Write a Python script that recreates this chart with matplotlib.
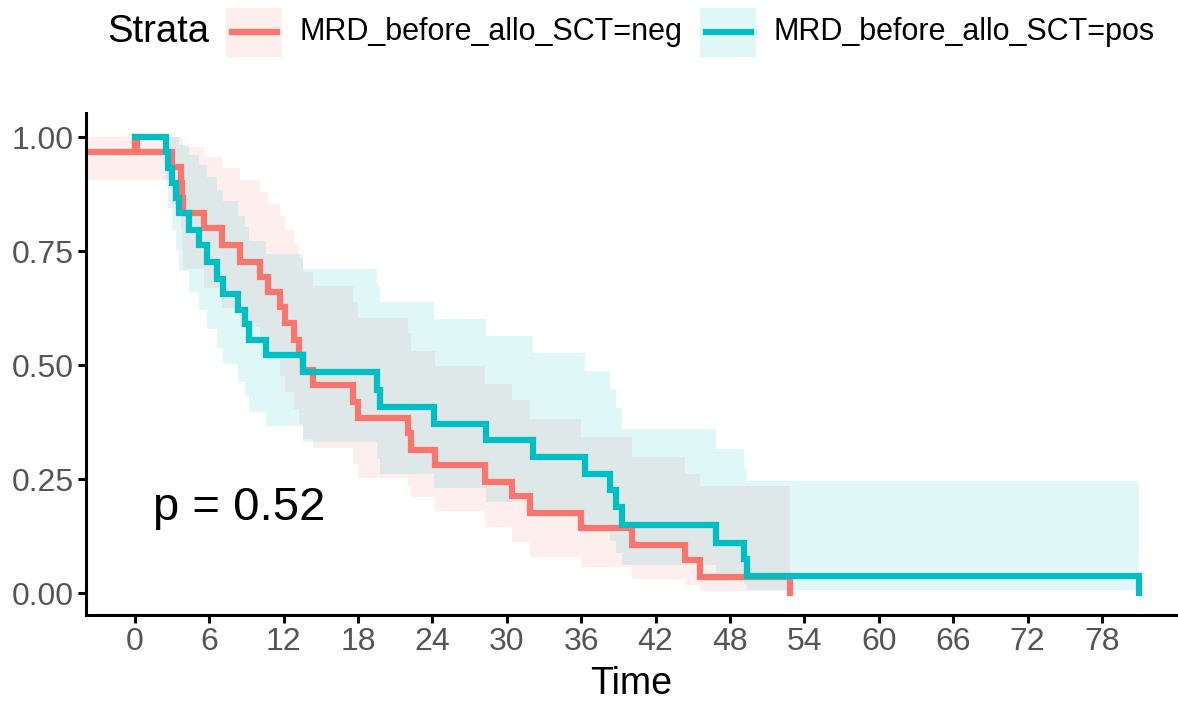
import matplotlib
matplotlib.use("Agg")
import matplotlib.pyplot as plt
from matplotlib.patches import Rectangle
from matplotlib.lines import Line2D

# ---------------- data ----------------
neg_time = [-4.0, 0.0, 0.2, 3.0, 3.7, 3.8, 3.9, 5.6, 7.0, 8.45, 10.1, 10.75, 11.7, 12.1,
            12.8, 13.25, 13.6, 14.4, 17.6, 18.0, 22.06, 22.3, 24.2, 28.2, 30.4, 31.9,
            36.0, 40.1, 44.4, 45.6, 52.8]
neg_surv = [0.968, 1.0, 0.968, 0.935, 0.9, 0.867, 0.833, 0.8, 0.763, 0.727, 0.694, 0.661,
            0.628, 0.592, 0.555, 0.522, 0.489, 0.456, 0.42, 0.383, 0.351, 0.313, 0.281,
            0.244, 0.212, 0.175, 0.142, 0.105, 0.073, 0.036, 0.0]
neg_lower = [0.907, 0.907, 0.907, 0.851, 0.799, 0.754, 0.71, 0.669, 0.625, 0.584, 0.547,
             0.512, 0.477, 0.44, 0.403, 0.371, 0.339, 0.318, 0.283, 0.252, 0.235, 0.21,
             0.18, 0.145, 0.112, 0.08, 0.057, 0.032, 0.017, 0.005, 0.0]
neg_upper = [1.0, 1.0, 1.0, 1.0, 1.0, 0.998, 0.978, 0.957, 0.932, 0.905, 0.88, 0.854,
             0.827, 0.797, 0.765, 0.735, 0.705, 0.674, 0.639, 0.603, 0.571, 0.532, 0.498,
             0.458, 0.423, 0.381, 0.342, 0.298, 0.261, 0.236, 0.0]

pos_time = [0.0, 2.5, 2.7, 3.0, 3.3, 3.6, 4.35, 5.2, 5.8, 6.6, 7.1, 8.3, 8.85, 9.2, 10.6,
            13.6, 19.5, 19.8, 24.1, 28.3, 32.1, 36.3, 38.3, 38.8, 39.3, 46.9, 49.1, 49.4, 81.0]
pos_surv = [1.0, 0.967, 0.933, 0.9, 0.867, 0.833, 0.796, 0.763, 0.727, 0.69, 0.657, 0.62,
            0.59, 0.555, 0.522, 0.485, 0.445, 0.409, 0.372, 0.335, 0.298, 0.262, 0.226,
            0.189, 0.149, 0.111, 0.074, 0.037, 0.0]
pos_lower = [1.0, 0.903, 0.845, 0.795, 0.75, 0.706, 0.66, 0.621, 0.579, 0.538, 0.503, 0.464,
             0.433, 0.398, 0.366, 0.331, 0.294, 0.262, 0.23, 0.199, 0.169, 0.141, 0.114,
             0.088, 0.061, 0.039, 0.02, 0.006, 0.0]
pos_upper = [1.0, 1.0, 1.0, 1.0, 1.0, 0.983, 0.96, 0.938, 0.912, 0.885, 0.859, 0.828, 0.804,
             0.773, 0.744, 0.711, 0.673, 0.638, 0.602, 0.565, 0.526, 0.488, 0.448, 0.407,
             0.361, 0.317, 0.275, 0.245, 0.0]

strata_labels = ["MRD_before_allo_SCT=neg", "MRD_before_allo_SCT=pos"]
x_ticks = list(range(0, 79, 6))
y_ticks = [0.0, 0.25, 0.5, 0.75, 1.0]
y_ticklabels = ["0.00", "0.25", "0.50", "0.75", "1.00"]
pval_text = "p = 0.52"

# ---------------- style ----------------
RED = "#F8766D"
TEAL = "#00BFC4"
BAND_ALPHA = 0.12
LW = 4.5
FONT = ["Liberation Sans", "DejaVu Sans"]
plt.rcParams["font.family"] = FONT

W, H = 1178, 704
fig = plt.figure(figsize=(W / 100, H / 100), dpi=100)
ax = fig.add_axes([86 / W, 1 - 615 / H, (1177 - 86) / W, (615 - 113) / H])

# bands
ax.fill_between(neg_time, neg_lower, neg_upper, step="post", color=RED,
                alpha=BAND_ALPHA, linewidth=0)
ax.fill_between(pos_time, pos_lower, pos_upper, step="post", color=TEAL,
                alpha=BAND_ALPHA, linewidth=0)
# curves
ax.step(neg_time, neg_surv, where="post", color=RED, lw=LW, solid_joinstyle="miter")
ax.step(pos_time, pos_surv, where="post", color=TEAL, lw=LW, solid_joinstyle="miter")

ax.set_xlim(-3.94, 84.05)
ax.set_ylim(-0.048, 1.053)
ax.set_xticks(x_ticks)
ax.set_yticks(y_ticks)
ax.set_yticklabels(y_ticklabels)
for s in ["top", "right"]:
    ax.spines[s].set_visible(False)
for s in ["left", "bottom"]:
    ax.spines[s].set_linewidth(2.2)
    ax.spines[s].set_color("black")
ax.tick_params(axis="both", length=6, width=2.2, color="black",
               labelsize=23, labelcolor="#555555", pad=3)
ax.set_xlabel("Time", fontsize=27, color="black", labelpad=6)

ax.text(1.45, 0.16, pval_text, fontsize=34, ha="left", va="baseline", color="black")

# ---------------- legend (top) ----------------
ly = 1 - 32 / H
fig.text(107 / W, ly, "Strata", fontsize=27.5, ha="left", va="center", color="black")
keys = [(226, 282, RED, 299), (700, 756, TEAL, 774)]
for (x0, x1, col, tx), lab in zip(keys, strata_labels):
    fig.patches.append(Rectangle((x0 / W, 1 - 57 / H), (x1 - x0) / W, 49 / H,
                                 transform=fig.transFigure, facecolor=col,
                                 alpha=BAND_ALPHA, edgecolor="none"))
    fig.lines.append(Line2D([(x0 + 6) / W, (x1 - 5) / W], [ly, ly],
                            transform=fig.transFigure, color=col, lw=LW))
    fig.text(tx / W, ly, lab, fontsize=22, ha="left", va="center", color="black")

fig.savefig("out.png", dpi=100)
